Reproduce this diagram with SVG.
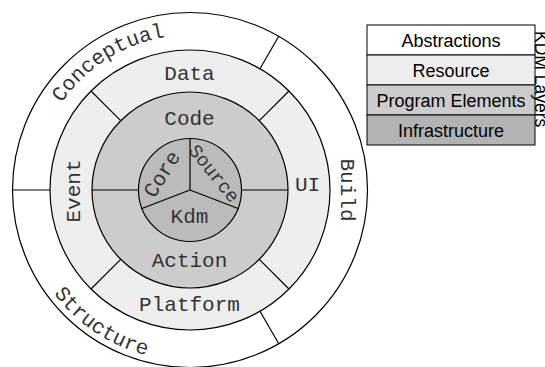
<svg xmlns="http://www.w3.org/2000/svg" width="545" height="367" viewBox="0 0 545 367">
<style>
.ring{stroke:#000;stroke-width:1.2}
.div{stroke:#000;stroke-width:1.2;fill:none}
.mono{font-family:"Liberation Mono","Courier New",monospace;font-size:21px;fill:#333;text-anchor:middle}
.sans{font-family:"Liberation Sans",Arial,sans-serif;font-size:18px;fill:#000;text-anchor:middle}
.cell{stroke:#000;stroke-width:1}
</style>
<defs>
<path id="arcConceptual" d="M35,190 A155,155 0 0 1 267.5,55.8"/>
<path id="arcStructure" d="M19,190 A171,171 0 0 0 275.5,338.1"/>
</defs>
<g id="outer-ring">
<circle class="ring" cx="190" cy="190" r="177.5" fill="#fff"/>
</g>
<g id="resource-ring">
<circle class="ring" cx="190" cy="190" r="140" fill="#eeeeee"/>
</g>
<g id="program-ring">
<circle class="ring" cx="190" cy="190" r="98" fill="#cccccc"/>
</g>
<g id="infrastructure-core">
<circle class="ring" cx="190" cy="190" r="51.5" fill="#bbbbbb"/>
</g>
<g id="connectors">
<line class="div" x1="190" y1="190" x2="190" y2="138.5"/>
<line class="div" x1="190" y1="190" x2="141.9" y2="208.5"/>
<line class="div" x1="190" y1="190" x2="238.1" y2="208.5"/>
<line class="div" x1="92" y1="190" x2="138.5" y2="190"/>
<line class="div" x1="241.5" y1="190" x2="288" y2="190"/>
<line class="div" x1="120.7" y1="120.7" x2="91" y2="91"/>
<line class="div" x1="259.3" y1="120.7" x2="289" y2="91"/>
<line class="div" x1="259.3" y1="259.3" x2="289" y2="289"/>
<line class="div" x1="120.7" y1="259.3" x2="91" y2="289"/>
<line class="div" x1="50" y1="190" x2="12.5" y2="190"/>
<line class="div" x1="260" y1="68.76" x2="278.75" y2="36.28"/>
<line class="div" x1="260" y1="311.24" x2="278.75" y2="343.72"/>
</g>
<g id="conceptual"><text class="mono"><textPath href="#arcConceptual" startOffset="155.3">Conceptual</textPath></text></g>
<g id="build"><text class="mono" transform="translate(340.5,190) rotate(90)">Build</text></g>
<g id="structure"><text class="mono"><textPath href="#arcStructure" startOffset="167.7">Structure</textPath></text></g>
<g id="data"><text class="mono" x="189.5" y="80">Data</text></g>
<g id="event"><text class="mono" transform="translate(80,191) rotate(-90)">Event</text></g>
<g id="ui"><text class="mono" x="307.5" y="191">UI</text></g>
<g id="platform"><text class="mono" x="189.5" y="311">Platform</text></g>
<g id="code"><text class="mono" x="189.5" y="124.5">Code</text></g>
<g id="action"><text class="mono" x="189.5" y="267">Action</text></g>
<g id="core"><text class="mono" transform="translate(162.5,174.5) rotate(-58)" y="6">Core</text></g>
<g id="source"><text class="mono" style="font-size:19px" transform="translate(214,173.5) rotate(51)" y="6">Source</text></g>
<g id="kdm"><text class="mono" x="189.5" y="222.5">Kdm</text></g>
<g id="legend">
<rect class="cell" x="367" y="25" width="168" height="30" fill="#fff"/>
<rect class="cell" x="367" y="55" width="168" height="30" fill="#eeeeee"/>
<rect class="cell" x="367" y="85" width="168" height="30" fill="#cccccc"/>
<rect class="cell" x="367" y="115" width="168" height="30" fill="#b3b3b3"/>
<text class="sans" x="451" y="47">Abstractions</text>
<text class="sans" x="451" y="77">Resource</text>
<text class="sans" x="451" y="107">Program Elements</text>
<text class="sans" x="451" y="137">Infrastructure</text>
<text class="sans" style="font-size:17.5px;text-anchor:start" transform="translate(535.3,31) rotate(90)">KDM Layers</text>
</g>
</svg>
